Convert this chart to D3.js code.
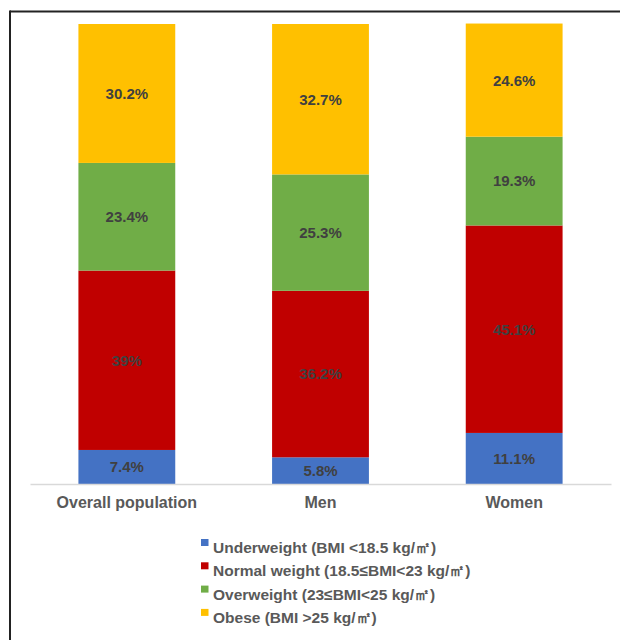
<!DOCTYPE html>
<html>
<head>
<meta charset="utf-8">
<script src="https://cdn.jsdelivr.net/npm/d3@7"></script>
<style>
  body { margin: 0; background: #fff; }
  svg { display: block; font-family: "Liberation Sans", Arial, sans-serif; }
</style>
</head>
<body>
<svg id="chart"></svg>
<script>
const categories = ["Overall population", "Men", "Women"];
const seriesNames = [
    "Underweight (BMI <18.5 kg/㎡)",
    "Normal weight (18.5≤BMI<23 kg/㎡)",
    "Overweight (23≤BMI<25 kg/㎡)",
    "Obese (BMI >25 kg/㎡)"
];
const underweight = [7.4, 5.8, 11.1];
const normal = [39, 36.2, 45.1];
const overweight = [23.4, 25.3, 19.3];
const obese = [30.2, 32.7, 24.6];
const valueLabels = [
    ["7.4%", "5.8%", "11.1%"],
    ["39%", "36.2%", "45.1%"],
    ["23.4%", "25.3%", "19.3%"],
    ["30.2%", "32.7%", "24.6%"]
];
const colors = ["#4472C4", "#C00000", "#70AD47", "#FFC000"];

const width = 620;
const height = 640;
let svg = d3.select("#chart").attr("width", width).attr("height", height);

// frame
svg.append("line").attr("x1", 10).attr("x2", width).attr("y1", 11.5).attr("y2", 11.5)
    .attr("stroke", "#222").attr("stroke-width", 2);
svg.append("line").attr("x1", 10).attr("x2", 10).attr("y1", 10.5).attr("y2", height)
    .attr("stroke", "#222").attr("stroke-width", 2);

let scX = d3.scaleBand().domain(categories).range([30, 611])
    .paddingInner(0.5).paddingOuter(0.25);
let scY = d3.scaleLinear().domain([0, 100]).range([484, 24]);

let allSeries = [underweight, normal, overweight, obese];
let rows = categories.map((c, i) => {
    let row = { cat: c };
    allSeries.forEach((s, j) => row["s" + j] = s[i]);
    return row;
});
let stack = d3.stack().keys(["s0", "s1", "s2", "s3"])(rows);

stack.forEach((layer, j) => {
    svg.append("g").selectAll("rect")
        .data(layer)
        .enter()
        .append("rect")
        .attr("x", d => scX(d.data.cat))
        .attr("y", d => scY(d[1]))
        .attr("width", scX.bandwidth())
        .attr("height", d => scY(d[0]) - scY(d[1]))
        .style("fill", colors[j]);

    svg.append("g").selectAll("text")
        .data(layer)
        .enter()
        .append("text")
        .attr("x", d => scX(d.data.cat) + scX.bandwidth() / 2)
        .attr("y", d => (scY(d[0]) + scY(d[1])) / 2)
        .attr("dy", "0.36em")
        .attr("text-anchor", "middle")
        .attr("font-size", 15)
        .attr("font-weight", "bold")
        .attr("fill", "#404040")
        .text((d, i) => valueLabels[j][i]);
});

// x axis
let axisX = d3.axisBottom(scX).tickSize(0).tickPadding(13);
let gx = svg.append("g")
    .attr("transform", `translate(0, ${scY(0)})`)
    .call(axisX);
gx.select(".domain").attr("stroke", "#d9d9d9").attr("stroke-width", 1.5);
gx.selectAll("text")
    .attr("font-family", "Liberation Sans, Arial, sans-serif")
    .attr("font-size", 16)
    .attr("font-weight", "bold")
    .attr("fill", "#595959");

// legend
let legend = svg.append("g").attr("transform", "translate(201, 539)");
seriesNames.forEach((name, i) => {
    let g = legend.append("g").attr("transform", `translate(0, ${i * 23.3})`);
    g.append("rect").attr("width", 7.5).attr("height", 7).style("fill", colors[i]);
    g.append("text")
        .attr("x", 12)
        .attr("y", 14)
        .attr("font-size", 15.5)
        .attr("font-weight", "bold")
        .attr("fill", "#595959")
        .text(name);
});
</script>
</body>
</html>
